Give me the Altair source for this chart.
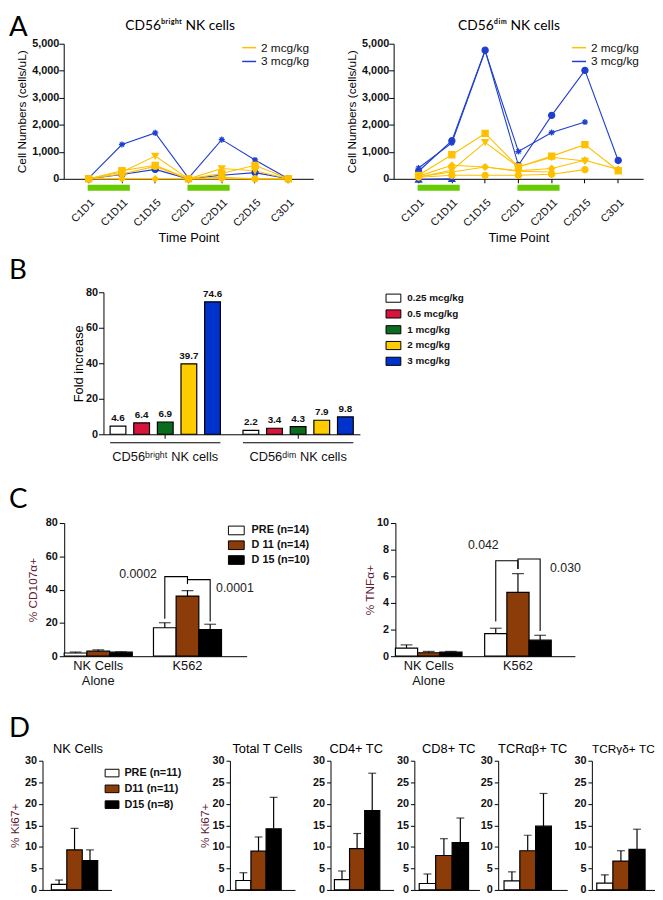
import altair as alt
import pandas as pd

SANS = "Liberation Sans"
HUM = "Lato"
INK = "#111111"
MAROON = "#5a2030"
YEL = "#ffc000"
BLU = "#1f3fcf"
GREEN_BAR = "#66cc00"
BROWN = "#8b3c08"
RECT = "M-1,-0.55L1,-0.55L1,0.55L-1,0.55Z"
STAR = "M-1,0L1,0M0,-1L0,1M-0.7,-0.7L0.7,0.7M-0.7,0.7L0.7,-0.7"

# ---------------- Panel A data ----------------
timepoints = ["C1D1", "C1D11", "C1D15", "C2D1", "C2D11", "C2D15", "C3D1"]
a_doses = ["2 mcg/kg", "3 mcg/kg"]
a_markers = ["star", "circle", "triangle-down", "square", "diamond", "triangle-up"]
a_marker_paths = [STAR, "circle", "triangle-down", "square", "diamond", "triangle-up"]

bright_dose = ["3 mcg/kg", "3 mcg/kg", "2 mcg/kg", "2 mcg/kg", "2 mcg/kg", "2 mcg/kg"]
bright_marker = ["star", "circle", "triangle-down", "square", "circle", "diamond"]
bright_values = [
    [30, 1270, 1700, 30, 1450, 700, 0],
    [0, 160, 350, 0, 130, 230, 0],
    [0, 250, 840, 0, 380, 300, 0],
    [0, 300, 500, 0, 200, 500, 0],
    [0, 180, 460, 0, 60, 0, 0],
    [0, 0, 0, 0, 0, 0, 0],
]

dim_dose = ["3 mcg/kg", "3 mcg/kg", "3 mcg/kg", "2 mcg/kg", "2 mcg/kg",
            "2 mcg/kg", "2 mcg/kg", "2 mcg/kg"]
dim_marker = ["star", "circle", "triangle-up", "square", "triangle-down",
              "diamond", "star", "circle"]
dim_values = [
    [400, 1330, 4730, 1010, 1715, 2100, None],
    [280, 1410, 4760, 500, 2350, 4015, 680],
    [-20, 0, None, None, None, None, None],
    [130, 890, 1680, 440, 840, 1265, 300],
    [70, 320, 1350, 440, 800, 660, None],
    [100, 500, 440, 300, 380, 690, 350],
    [80, 250, 440, 280, 250, None, None],
    [60, 130, 130, 130, 170, 340, None],
]
dosing_start = ["C1D1", "C2D1"]
dosing_end = ["C1D11", "C2D11"]
dosing_level = [-330, -330]

# ---------------- Panel B data ----------------
b_groups = ["CD56ᵇʳⁱᵍʰᵗ NK cells", "CD56ᵈⁱᵐ NK cells"]
b_doses = ["0.25 mcg/kg", "0.5 mcg/kg", "1 mcg/kg", "2 mcg/kg", "3 mcg/kg"]
b_colors = ["#ffffff", "#d7143c", "#0b6b1f", "#ffcc00", "#0033cc"]
b_fold_bright = [4.6, 6.4, 6.9, 39.7, 74.6]
b_fold_dim = [2.2, 3.4, 4.3, 7.9, 9.8]

# ---------------- Panel C data ----------------
c_cats = ["NK Cells Alone", "K562"]
c_grps = ["PRE (n=14)", "D 11 (n=14)", "D 15 (n=10)"]
c_colors = ["#ffffff", BROWN, "#000000"]
cd107_nk = [1.9, 3.0, 2.4]
cd107_nk_up = [2.5, 3.8, 2.6]
cd107_k = [17.1, 36.1, 16.0]
cd107_k_up = [20.1, 39.4, 19.2]
tnf_nk = [0.6, 0.26, 0.3]
tnf_nk_up = [0.85, 0.36, 0.36]
tnf_k = [1.7, 4.8, 1.2]
tnf_k_up = [2.1, 6.2, 1.57]
bracket_id = [1, 1, 1, 1, 2, 2, 2, 2]
bracket_grp = [c_grps[0], c_grps[0], c_grps[1], c_grps[1],
               c_grps[1], c_grps[1], c_grps[2], c_grps[2]]
cd107_bracket_y = [22.5, 47.8, 47.8, 43.5, 43.5, 46.0, 46.0, 20.8]
tnf_bracket_y = [2.6, 7.17, 7.17, 6.55, 6.55, 7.3, 7.3, 1.9]
p_grp = [c_grps[0], c_grps[2]]
cd107_p_text = ["0.0002", "0.0001"]
cd107_p_y = [49.4, 40.9]
tnf_p_text = ["0.042", "0.030"]
tnf_p_y = [7.74, 6.6]

# ---------------- Panel D data ----------------
d_grps = ["PRE (n=11)", "D11 (n=11)", "D15 (n=8)"]
d_titles = ["NK Cells", "Total T Cells", "CD4+ TC", "CD8+ TC", "TCRαβ+ TC", "TCRγδ+ TC"]
d_means = [
    [1.3, 9.3, 6.8],
    [2.2, 9.0, 14.2],
    [2.4, 9.6, 18.4],
    [1.5, 8.0, 11.0],
    [2.1, 9.1, 14.8],
    [1.6, 6.7, 9.4],
]
d_ups = [
    [2.3, 14.3, 9.3],
    [4.0, 12.3, 21.5],
    [4.4, 13.1, 27.1],
    [3.7, 11.9, 16.7],
    [4.2, 12.7, 22.4],
    [3.5, 9.1, 14.1],
]


def indep(c):
    return c.resolve_scale(color="independent", fill="independent", stroke="independent",
                           shape="independent", xOffset="independent").resolve_legend(
        color="independent", fill="independent", stroke="independent", shape="independent")


def letter_chart(letter, ly, w):
    return alt.Chart(pd.DataFrame({"t": [letter]})).mark_text(
        align="left", baseline="alphabetic", font=HUM, fontSize=28, color="black"
    ).encode(x=alt.value(0), y=alt.value(ly), text="t:N").properties(width=w, height=1)


def title_layer(text, tx, ty, font, size):
    return alt.Chart(pd.DataFrame({"t": [text]})).mark_text(
        align="center", baseline="alphabetic", font=font, fontSize=size, color="black"
    ).encode(x=alt.value(tx), y=alt.value(ty), text="t:N")


# ---------------- Panel A ----------------
def panel_a(dose, marker, values, title, title_x):
    rows = []
    for i, (d, m, vals) in enumerate(zip(dose, marker, values)):
        for k, (t, v) in enumerate(zip(timepoints, vals)):
            if v is None:
                continue
            rows.append({"series": f"s{i}", "dose": d, "marker": m, "time": t, "k": k, "cells": v})
    df = pd.DataFrame(rows)
    xsc = alt.Scale(domain=timepoints, padding=0.5)
    xax = alt.Axis(title="Time Point", labelAngle=-45, labelAlign="right", labelBaseline="top",
                   labelPadding=14, labelFontSize=11, labelFontWeight="normal", tickSize=4,
                   titleFontSize=13, titlePadding=4)
    ysc = alt.Scale(domain=[0, 5000])
    yax = alt.Axis(title="Cell Numbers (cells/uL)", values=[0, 1000, 2000, 3000, 4000, 5000],
                   labelExpr="format(datum.value, ',')", tickSize=5, labelPadding=0,
                   titlePadding=3, titleFontSize=12)
    X = alt.X("time:N", scale=xsc, axis=xax, sort=timepoints)
    Y = alt.Y("cells:Q", scale=ysc, axis=yax)
    cs = alt.Scale(domain=a_doses, range=[YEL, BLU])
    lines = alt.Chart(df).mark_line(strokeWidth=1.1).encode(
        X, Y,
        color=alt.Color("dose:N", scale=cs, legend=alt.Legend(
            title=None, orient="none", legendX=180, legendY=-4, symbolType="stroke",
            symbolSize=200, symbolStrokeWidth=1.5, labelFont=SANS, labelFontSize=12,
            labelFontWeight="normal", rowPadding=0, labelOffset=4, padding=0)),
        detail="series:N", order="k:Q")
    pts = alt.Chart(df).mark_point(filled=True, size=38, strokeWidth=1.3, opacity=1).encode(
        X, Y,
        fill=alt.Fill("dose:N", scale=cs, legend=None),
        stroke=alt.Stroke("dose:N", scale=cs, legend=None),
        shape=alt.Shape("marker:N", scale=alt.Scale(domain=a_markers, range=a_marker_paths), legend=None))
    dd = pd.DataFrame({"start": dosing_start, "end": dosing_end, "level": dosing_level})
    green = alt.Chart(dd).mark_rule(color=GREEN_BAR, strokeWidth=6, strokeCap="butt",
                                    xOffset=-1, x2Offset=8).encode(
        x=alt.X("start:N", scale=xsc, axis=xax, sort=timepoints), x2="end:N",
        y=alt.Y("level:Q", scale=ysc, axis=yax))
    layers = [lines, pts, green, title_layer(title, title_x, -14, HUM, 14)]
    return alt.layer(*layers).properties(width=253, height=137)


a_left = panel_a(bright_dose, bright_marker, bright_values, "CD56ᵇʳⁱᵍʰᵗ NK cells", 118)
a_right = panel_a(dim_dose, dim_marker, dim_values, "CD56ᵈⁱᵐ NK cells", 117)

# ---------------- Panel B ----------------
b_rows = []
for g, vals in zip(b_groups, [b_fold_bright, b_fold_dim]):
    for d, v in zip(b_doses, vals):
        b_rows.append({"group": g, "dose": d, "fold": v})
b_df = pd.DataFrame(b_rows)
bX = alt.X("group:N", sort=b_groups,
           scale=alt.Scale(domain=b_groups, paddingInner=0.17, paddingOuter=0.05),
           axis=alt.Axis(title=None, labelFontSize=13, labelFontWeight="normal", labelPadding=13,
                         tickSize=4, labelAngle=0))
bXO = alt.XOffset("dose:N", sort=b_doses,
                  scale=alt.Scale(domain=b_doses, paddingInner=0.333, paddingOuter=0))
bY = alt.Y("fold:Q", scale=alt.Scale(domain=[0, 80]),
           axis=alt.Axis(values=[0, 20, 40, 60, 80], title="Fold increase", tickSize=5,
                         labelPadding=1, titlePadding=0, titleFontSize=13))
b_bars = alt.Chart(b_df).mark_bar(stroke="black", strokeWidth=1.2).encode(
    bX, bXO, bY,
    color=alt.Color("dose:N", sort=b_doses, scale=alt.Scale(domain=b_doses, range=b_colors),
                    legend=alt.Legend(title=None, orient="none", legendX=286, legendY=-2,
                                      symbolType=RECT, symbolSize=225, symbolStrokeColor="black",
                                      symbolStrokeWidth=1, labelFont=SANS, labelFontSize=10,
                                      labelFontWeight="bold", rowPadding=1, labelOffset=6,
                                      symbolOpacity=1)))
b_text = alt.Chart(b_df).mark_text(baseline="alphabetic", dy=-5, font=SANS, fontSize=10,
                                   fontWeight="bold", color=INK).encode(
    bX, bXO, bY, text=alt.Text("fold:Q", format=".1f"))
b_brackets = alt.Chart(pd.DataFrame({"group": b_groups})).mark_rect(color="black").encode(
    x=alt.X("group:N", sort=b_groups,
            scale=alt.Scale(domain=b_groups, paddingInner=0.17, paddingOuter=0.05)),
    y=alt.value(152), y2=alt.value(153.2))
b_chart = alt.layer(b_bars, b_text, b_brackets).properties(width=260, height=144)


# ---------------- Panel C ----------------
def panel_c(nk, nk_up, k, k_up, ydom, yvals, ytitle, tpad, br_y, p_text, p_y, p_dx, p_dy,
            width, pin, pout, legend):
    rows = []
    for cat, m, u in zip(c_cats, [nk, k], [nk_up, k_up]):
        for g, mv, uv in zip(c_grps, m, u):
            rows.append({"cat": cat, "grp": g, "pct": mv, "up": uv})
    df = pd.DataFrame(rows)
    xsc = alt.Scale(domain=c_cats, paddingInner=pin, paddingOuter=pout, align=0)
    xax = alt.Axis(title=None, ticks=False, labelAngle=0, labelFontSize=13,
                   labelFontWeight="normal", labelPadding=4, labelLineHeight=15,
                   labelExpr="datum.value == 'NK Cells Alone' ? ['NK Cells', 'Alone'] : datum.label")
    X = alt.X("cat:N", sort=c_cats, scale=xsc, axis=xax)
    XO = alt.XOffset("grp:N", sort=c_grps,
                     scale=alt.Scale(domain=c_grps, paddingInner=0, paddingOuter=0))
    yax = alt.Axis(values=yvals, title=ytitle, tickSize=5, labelPadding=2, titlePadding=tpad,
                   titleFontSize=12, titleColor=MAROON)
    ysc = alt.Scale(domain=ydom)
    leg = None
    if legend:
        leg = alt.Legend(title=None, orient="none", legendX=166, legendY=-1, symbolType=RECT,
                         symbolSize=256, symbolStrokeColor="black", symbolStrokeWidth=1,
                         labelFont=SANS, labelFontSize=11, labelFontWeight="bold",
                         rowPadding=0, labelOffset=7, symbolOpacity=1)
    bars = alt.Chart(df).mark_bar(stroke="black", strokeWidth=1.2).encode(
        X, XO, alt.Y("pct:Q", scale=ysc, axis=yax),
        color=alt.Color("grp:N", sort=c_grps, scale=alt.Scale(domain=c_grps, range=c_colors),
                        legend=leg))
    err = alt.Chart(df).mark_rule(color="black", strokeWidth=1.2).encode(
        X, XO, alt.Y("pct:Q", scale=ysc, axis=yax), y2="up:Q")
    caps = alt.Chart(df).mark_tick(color="black", thickness=1.2, size=12).encode(
        X, XO, alt.Y("up:Q", scale=ysc, axis=yax))
    bdf = pd.DataFrame({"id": bracket_id, "grp": bracket_grp, "y": br_y,
                        "cat": ["K562"] * len(br_y), "k": list(range(len(br_y)))})
    br = alt.Chart(bdf).mark_line(color="black", strokeWidth=1.1).encode(
        X, XO, alt.Y("y:Q", scale=ysc, axis=yax), detail="id:N", order="k:Q")
    layers = [bars, err, caps, br]
    for i in range(2):
        pdf = pd.DataFrame({"cat": ["K562"], "grp": [p_grp[i]], "y": [p_y[i]], "t": [p_text[i]]})
        layers.append(alt.Chart(pdf).mark_text(
            align="right" if i == 0 else "left", baseline="middle", dx=p_dx[i], dy=p_dy[i],
            font=SANS, fontSize=12.5, color="#222222").encode(
            X, XO, alt.Y("y:Q", scale=ysc, axis=yax), text="t:N"))
    return alt.layer(*layers).properties(width=width, height=135)


c_left = panel_c(cd107_nk, cd107_nk_up, cd107_k, cd107_k_up, [0, 80], [0, 20, 40, 60, 80],
                 "% CD107α+", 5.8, cd107_bracket_y, cd107_p_text, cd107_p_y, [-8, 6], [0, 0],
                 185, 0.2376, 0.141, True)
c_right = panel_c(tnf_nk, tnf_nk_up, tnf_k, tnf_k_up, [0, 10], [0, 2, 4, 6, 8, 10],
                  "% TNFα+", 0, tnf_bracket_y, tnf_p_text, tnf_p_y, [3, 10], [-8, 0],
                  182, 0.254, 0.1326, False)


# ---------------- Panel D ----------------
d_colors = ["#ffffff", BROWN, "#000000"]
d_layout = [  # width, paddingOuter, align, y title, titlePadding, title centre, title size
    (70, 0.734, 0.39, "% Ki67+", 2.8, 36, 13),
    (66, 0.652, 0.30, "% Ki67+", 0.8, 38, 13),
    (64, 0.587, 0.22, " ", 8.3, 26, 13),
    (66, 0.48, 0.31, " ", 0.8, 35, 13),
    (70, 0.6875, 0.27, None, 0, 35, 13),
    (64, 0.46, 0.33, " ", 3.8, 32, 12),
]


def panel_d(i):
    w, po, al, yt, tp, tx, tfs = d_layout[i]
    df = pd.DataFrame({"grp": d_grps, "ki": d_means[i], "up": d_ups[i]})
    X = alt.X("grp:N", sort=d_grps,
              scale=alt.Scale(domain=d_grps, paddingInner=0, paddingOuter=po, align=al),
              axis=alt.Axis(title=None, labels=False, ticks=False))
    real = yt is not None and yt.strip() != ""
    yax = alt.Axis(values=[0, 5, 10, 15, 20, 25, 30], title=yt, tickSize=4, labelPadding=2,
                   titlePadding=tp, titleFontSize=12 if real else 1, titleColor=MAROON)
    ysc = alt.Scale(domain=[0, 30])
    leg = None
    if i == 0:
        leg = alt.Legend(title=None, orient="none", legendX=47.4, legendY=-10.6, padding=15.6,
                         symbolType=RECT, symbolSize=196, symbolStrokeColor="black",
                         symbolStrokeWidth=1, labelFont=SANS, labelFontSize=11,
                         labelFontWeight="bold", rowPadding=2, labelOffset=5, symbolOpacity=1)
    bars = alt.Chart(df).mark_bar(stroke="black", strokeWidth=1.2).encode(
        X, alt.Y("ki:Q", scale=ysc, axis=yax),
        color=alt.Color("grp:N", sort=d_grps, scale=alt.Scale(domain=d_grps, range=d_colors),
                        legend=leg))
    err = alt.Chart(df).mark_rule(color="black", strokeWidth=1.2).encode(
        X, alt.Y("ki:Q", scale=ysc, axis=yax), y2="up:Q")
    caps = alt.Chart(df).mark_tick(color="black", thickness=1.2, size=8).encode(
        X, alt.Y("up:Q", scale=ysc, axis=yax))
    layers = [bars, err, caps, title_layer(d_titles[i], tx, -8, SANS, tfs)]
    return alt.layer(*layers).properties(width=w, height=131)


d_charts = [panel_d(i) for i in range(6)]

rowA = indep(alt.hconcat(letter_chart("A", -8, 24),
                         indep(alt.hconcat(a_left, a_right, spacing=32.5)), spacing=-17.5))
rowB = indep(alt.hconcat(letter_chart("B", -13, 24), b_chart, spacing=39.8))
rowC = indep(alt.hconcat(letter_chart("C", -15, 24),
                         indep(alt.hconcat(c_left, c_right, spacing=53.8)), spacing=-7))
rowD = indep(alt.hconcat(letter_chart("D", -24, 22),
                         indep(alt.hconcat(*d_charts, spacing=0)), spacing=-23))

ab = indep(alt.vconcat(rowA, rowB, spacing=13))
abc = indep(alt.vconcat(ab, rowC, spacing=23))
chart = indep(alt.vconcat(abc, rowD, spacing=28)).properties(padding=0).configure(
    padding=0
).configure_view(stroke=None).configure_axis(
    grid=False, domainColor="black", tickColor="black", labelColor=INK, labelFont=SANS,
    labelFontSize=11, labelFontWeight="bold", titleFont=SANS, titleFontWeight="normal",
    titleColor="black", domainWidth=1, tickWidth=1
).configure_legend(labelColor=INK)

chart.save("out.html", embed_options={"renderer": "svg", "actions": False})
